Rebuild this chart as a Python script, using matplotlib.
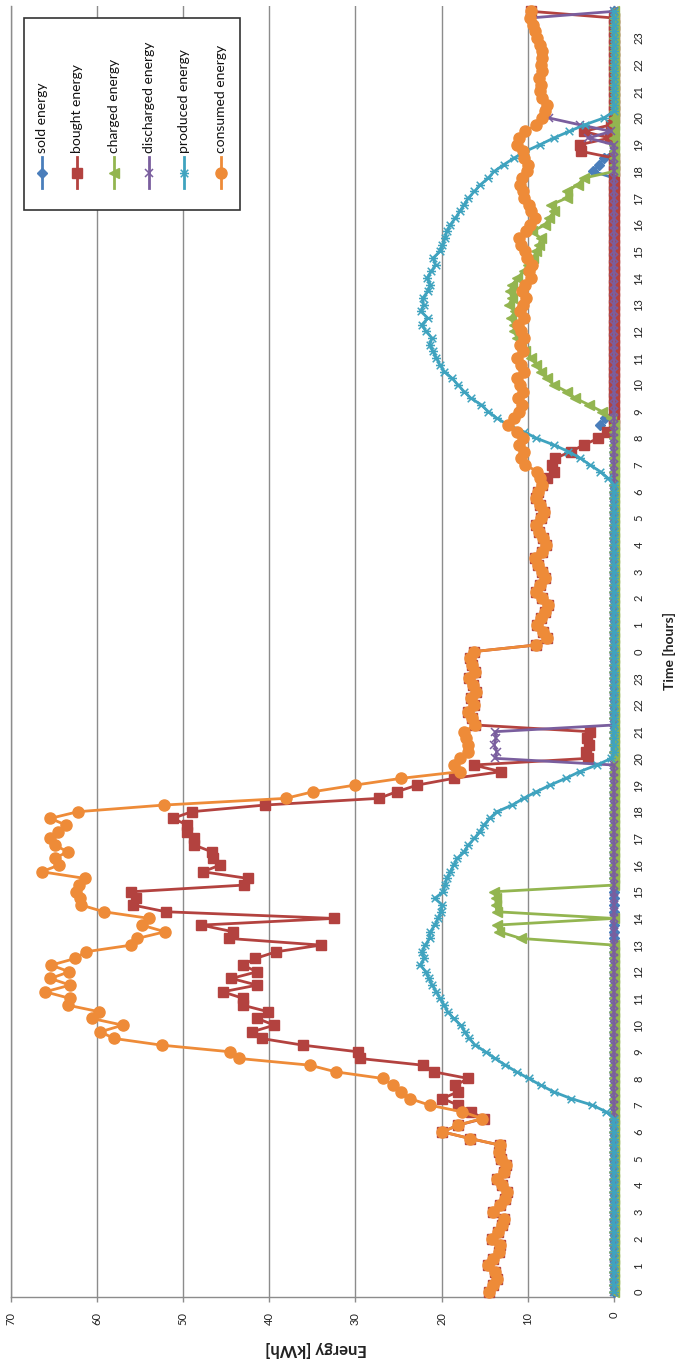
import matplotlib
matplotlib.use("Agg")
import matplotlib.pyplot as plt
import numpy as np
from matplotlib.path import Path
from matplotlib.lines import Line2D
from matplotlib.patches import Rectangle

plt.rcParams['font.family'] = ['Lato', 'DejaVu Sans']

# ---------------------------------------------------------------------------
# Energy flows over two days, sampled every 15 minutes (kWh)
# ---------------------------------------------------------------------------
hour_labels = [str(h % 24) for h in range(48)]
energy_ticks = [0, 10, 20, 30, 40, 50, 60, 70]

consumed_day1 = [
    14.5, 14.0, 13.6, 13.8, 14.6, 14.0, 13.4, 13.2, 14.2, 13.5, 13.0, 12.8,
    14.0, 13.2, 12.6, 12.4, 13.0, 13.6, 12.8, 12.5, 13.1, 13.4, 13.2,
    16.7, 19.9, 18.1, 15.3, 17.6, 21.4, 23.7, 24.7, 25.7, 26.8, 32.3, 35.3,
    43.5, 44.5, 52.5, 58.0, 59.6, 57.0, 60.6, 59.7, 63.4, 63.1, 66.0, 63.1,
    65.4, 63.2, 65.3, 62.5, 61.3, 56.0, 55.3, 52.1, 54.8, 53.9, 59.2, 61.8,
    62.0, 62.4, 62.1, 61.4, 66.4, 64.4, 64.9, 63.4, 64.9, 65.4, 64.5, 63.6,
    65.4, 62.2, 52.2, 38.1, 34.9, 30.0, 24.7, 17.9, 18.6, 17.9, 16.9, 16.9,
    17.2, 17.4, 16.1, 16.5, 16.9, 16.2, 16.6, 16.0, 16.4, 16.8, 16.1, 16.5,
    16.7, 16.3,
]
consumed_day2 = [
    9.0, 7.8, 8.2, 8.9, 8.5, 8.0, 7.7, 8.4, 9.1, 8.6, 8.0, 8.3, 8.8, 9.2,
    8.4, 7.9, 8.2, 8.7, 9.0, 8.5, 8.1, 8.6, 9.1, 8.8, 8.3, 8.6, 8.9,
    10.3, 10.8, 10.5, 11.0, 10.6, 11.3, 12.3, 11.6, 11.0, 10.7, 11.1, 10.6,
    10.9, 11.2, 10.5, 10.8, 11.3, 10.6, 10.9, 10.4, 10.8, 11.1, 10.5, 10.9,
    10.6, 10.2, 10.7, 10.3, 9.6, 9.9, 9.5, 10.1, 10.3, 10.8, 11.0, 10.2,
    9.7, 9.2, 9.6, 9.9, 10.4, 10.6, 10.9, 10.7, 10.1, 10.0, 10.4, 10.6,
    11.2, 11.0, 10.3, 9.0, 8.4, 8.0, 7.8, 8.3, 8.6, 8.5, 8.7, 8.4, 8.5,
    8.3, 8.4, 8.6, 8.9, 9.2, 9.4, 9.8, 9.6,
]

bought_day1 = [
    14.5, 14.0, 13.6, 13.8, 14.6, 14.0, 13.4, 13.2, 14.2, 13.5, 13.0, 12.8,
    14.0, 13.2, 12.6, 12.4, 13.0, 13.6, 12.8, 12.5, 13.1, 13.4, 13.2,
    16.7, 19.9, 18.1, 15.1,
    16.6, 18.1, 19.9, 18.1, 18.4, 16.9, 20.9, 22.2, 29.5, 29.7, 36.1, 40.9,
    42.0, 39.4, 41.4, 40.1, 43.1, 43.0, 45.4, 41.4, 44.4, 41.4, 43.1, 41.6,
    39.2, 34.0, 44.7, 44.2, 47.9, 32.5, 52.0, 55.8, 55.5, 56.0, 42.9, 42.5,
    47.7, 45.7, 46.5, 46.7, 48.7, 48.7, 49.5, 49.5, 51.2, 49.0, 40.5, 27.3,
    25.2, 22.8, 18.6, 13.1, 16.3, 3.0, 3.3, 2.9, 3.1, 2.8,
    16.1, 16.5, 16.9, 16.2, 16.6, 16.0, 16.4, 16.8, 16.1, 16.5, 16.7, 16.3,
]
bought_day2 = (
    [9.0, 7.8, 8.2, 8.9, 8.5, 8.0, 7.7, 8.4, 9.1, 8.6, 8.0, 8.3, 8.8, 9.2,
     8.4, 7.9, 8.2, 8.7, 9.0, 8.5, 8.1, 8.6, 9.1, 8.8, 8.3,
     7.8, 7.0, 7.2, 6.8, 5.0, 3.5, 1.8, 0.8]
    + [0.0] * 41
    + [3.8, 4.0, 0.5, 3.5, 0.3]
    + [0.0] * 16
    + [9.6]
)

charged = (
    [0.0] * 53
    + [10.8, 13.3, 13.6, 0.0, 13.6, 13.7, 13.7, 13.9]
    + [0.0] * 70
    + [0.4, 1.4, 2.9, 4.5, 5.5, 7.0, 7.8, 8.5, 9.0, 9.6, 10.3, 10.8, 11.2,
       11.6, 11.6, 12.0, 11.5, 12.2, 11.8, 12.1, 11.8, 11.2, 10.5, 10.0, 9.4,
       9.0, 8.7, 8.5, 9.5, 8.0, 7.5, 7.0, 7.3, 5.5, 5.5, 4.2, 3.5]
    + [0.0] * 25
)

discharged = (
    [0.0] * 80
    + [13.8, 13.6, 13.9, 13.7, 13.8]
    + [0.0] * 88
    + [3.0, 0.3, 4.0, 7.5,
       8.0, 7.8, 8.3, 8.6, 8.5, 8.7, 8.4, 8.5, 8.3, 8.4, 8.6, 8.9, 9.2, 9.4,
       9.8, 0.0]
)

produced = (
    [0.0] * 27
    + [0.9, 2.5, 5.0, 7.0, 8.5, 9.9, 11.3, 12.6, 13.8, 14.9, 16.1, 16.8,
       17.3, 17.8, 18.6, 19.3, 19.7, 20.2, 20.6, 21.1, 21.5, 21.8, 22.5, 22.0,
       22.3, 21.9, 21.4, 21.3, 20.8, 20.4, 20.1, 19.9, 20.8, 19.8, 19.6, 19.4,
       19.0, 18.6, 18.2, 17.4, 16.9, 16.2, 15.6, 15.1, 14.4, 13.6, 11.8, 10.5,
       9.0, 7.4, 5.6, 4.0, 2.0, 0.3]
    + [0.0] * 41
    + [0.7, 1.6, 2.8, 3.9, 5.3, 7.0, 9.0, 10.5, 12.3, 13.6, 14.6, 15.4, 16.6,
       17.4, 18.1, 18.8, 19.7, 20.2, 20.6, 21.0, 21.4, 21.1, 21.8, 22.3, 21.6,
       22.4, 22.1, 22.2, 21.6, 21.3, 21.7, 21.2, 20.7, 21.0, 20.2, 19.9, 19.6,
       19.4, 19.0, 18.4, 17.9, 17.4, 16.9, 16.2, 15.5, 14.6, 13.9, 12.8, 11.6,
       10.3, 8.6, 7.0, 5.2, 3.4, 1.2]
    + [0.0] * 16
)

sold = (
    [0.0] * 129
    + [0.6, 1.6, 1.0]
    + [0.0] * 36
    + [2.4, 1.7, 1.2]
    + [0.0] * 22
)

consumed = consumed_day1 + consumed_day2
bought = bought_day1 + bought_day2

# time of each sample in hours (15-minute resolution)
hours = np.arange(len(consumed)) * 0.25

# ---------------------------------------------------------------------------
# Figure (drawn in portrait: time runs upward, energy grows to the left)
# ---------------------------------------------------------------------------
W, H = 680, 1364
fig = plt.figure(figsize=(W / 100, H / 100), dpi=100)


def fx(px):
    return px / W


def fy(py):
    return 1 - py / H


ax = fig.add_axes([fx(10.7), fy(1297), fx(614) - fx(10.7), (1297 - 6) / H])

# asterisk-like marker: a cross with a horizontal bar
star_path = Path(
    [(-1, -1), (1, 1), (-1, 1), (1, -1), (-1.2, 0), (1.2, 0)],
    [Path.MOVETO, Path.LINETO, Path.MOVETO, Path.LINETO, Path.MOVETO, Path.LINETO],
)

series = [
    ("sold energy", sold, "#4A7EBB", "D", 5.0, True),
    ("bought energy", bought, "#B3423F", "s", 7.0, True),
    ("charged energy", charged, "#93B550", "<", 7.0, True),
    ("discharged energy", discharged, "#7A5E9E", "x", 6.0, False),
    ("produced energy", produced, "#3FA3BF", star_path, 6.5, False),
    ("consumed energy", consumed, "#EE8B38", "o", 8.0, True),
]

for i, (name, vals, col, mk, ms, filled) in enumerate(series):
    ax.plot(vals, hours, color=col, lw=2.0, marker=mk, ms=ms,
            mfc=col if filled else "none", mec=col, mew=1.0 if filled else 1.1,
            zorder=3 + i, clip_on=False, solid_joinstyle="round")

ax.set_xlim(70, 0)
ax.set_ylim(-0.19, 48.2)

grid_col = "#8C8C8C"
ax.set_xticks(energy_ticks)
ax.set_xticklabels([str(v) for v in energy_ticks])
ax.grid(axis="x", color=grid_col, lw=1.0)
ax.set_axisbelow(True)

ax.set_yticks(range(48))
ax.set_yticklabels(hour_labels)

for side in ("bottom", "right", "left"):
    ax.spines[side].set_color(grid_col)
    ax.spines[side].set_linewidth(1.0)
ax.spines["top"].set_visible(False)

ax.tick_params(axis="x", bottom=True, top=False, direction="out", length=3.6,
               width=1.0, color=grid_col, pad=7, labelsize=8, labelrotation=90,
               labelcolor="#222222")
ax.tick_params(axis="y", left=False, right=False, labelleft=False,
               labelright=True, length=0, pad=14, labelsize=8,
               labelrotation=90, labelcolor="#222222")
for lbl in ax.get_yticklabels():
    lbl.set_va("center")

# axis titles
fig.text(fx(316), fy(1349), "Energy [kWh]", rotation=180, ha="center",
         va="center", fontsize=12, fontweight="bold", color="#222222")
fig.text(fx(669), fy(651), "Time [hours]", rotation=90, ha="center",
         va="center", fontsize=10, fontweight="bold", color="#222222")

# legend box with upright (rotated) entries
fig.add_artist(Rectangle((fx(24), fy(210)), (240 - 24) / W, (210 - 18) / H,
                         transform=fig.transFigure, facecolor="white",
                         edgecolor="#333333", lw=1.2, zorder=20))
entry_x = [42, 77, 114, 149, 184, 221]
for x_px, (name, vals, col, mk, ms, filled) in zip(entry_x, series):
    fig.add_artist(Line2D([fx(x_px), fx(x_px)], [fy(188), fy(157)],
                          transform=fig.transFigure, color=col, lw=2.0,
                          zorder=21))
    fig.add_artist(Line2D([fx(x_px)], [fy(172.5)], transform=fig.transFigure,
                          color=col, marker=mk, ms=ms,
                          mfc=col if filled else "none", mec=col,
                          mew=1.0 if filled else 1.1, lw=0, zorder=22))
    fig.text(fx(x_px), fy(153), name, rotation=90, ha="center", va="bottom",
             fontsize=10, color="#111111", zorder=23)

fig.savefig("out.png", dpi=100)
